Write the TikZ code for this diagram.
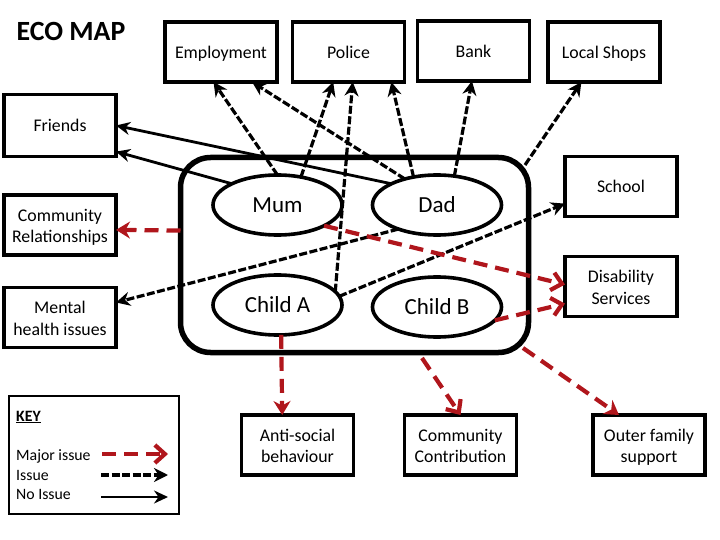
\documentclass[tikz,border=0pt]{standalone}
\usepackage{fontspec}
\setmainfont{Carlito}
\usetikzlibrary{arrows.meta,shapes.geometric}
\definecolor{major}{HTML}{B0161C}
\newcommand{\topline}{\rule{0pt}{17pt}}
\tikzset{
  box/.style={draw=black,line width=3.8pt,fill=white,inner sep=0pt,outer sep=0pt,
    minimum width=112pt,minimum height=60pt,align=center,
    execute at begin node={\rule{0pt}{16pt}},execute at end node={\rule[-3pt]{0pt}{3pt}},
    font=\fontsize{17.8}{21.5}\selectfont},
  person/.style={ellipse,draw=black,line width=3.6pt,fill=white,inner sep=0pt,outer sep=0pt,
    minimum width=129pt,minimum height=60pt,font=\fontsize{23}{26}\selectfont},
  keytext/.style={anchor=west,inner sep=0pt,font=\fontsize{15.8}{18}\selectfont},
  noissue/.style={draw=black,line width=2.8pt,-{Stealth[length=14pt,width=13pt]}},
  issue/.style={draw=black,line width=3.2pt,dash pattern=on 8pt off 2.5pt,-{Stealth[length=14pt,width=14pt]}},
  major/.style={draw=major,line width=4.2pt,dash pattern=on 14pt off 8pt,-{Stealth[length=14pt,width=17pt]}},
  majoropen/.style={draw=major,line width=4.2pt,dash pattern=on 14pt off 8pt,-{Straight Barb[length=10pt,width=18pt]}},
}
\begin{document}
\begin{tikzpicture}[x=1pt,y=-1pt]
\useasboundingbox (0,0) rectangle (720,540);

\node[inner sep=0pt,font=\bfseries\fontsize{27.8}{30}\selectfont] (title) at (71,31) {ECO MAP};

% family
\node[draw=black,line width=5.5pt,rounded corners=30pt,inner sep=0pt,outer sep=0pt,
  minimum width=348pt,minimum height=195pt] (home) at (354.5,255) {};
\node[person] (mum) at (277.5,205) {Mum};
\node[person] (dad) at (437,205) {Dad};
\node[person] (childa) at (277.5,305) {Child A};
\node[person] (childb) at (437,307) {Child B};

% outside
\node[box] (emp) at (221,52) {Employment};
\node[box] (police) at (348.5,52) {Police};
\node[box] (bank) at (473.5,51) {Bank};
\node[box] (shops) at (604,52) {Local Shops};
\node[box,minimum height=62pt] (friends) at (60,125.5) {Friends};
\node[box] (comm) at (60,225) {\topline Community\\Relationships};
\node[box] (mental) at (60,317.5) {\topline Mental\\health issues};
\node[box] (school) at (621,186.5) {School};
\node[box] (disab) at (621,286.5) {\topline Disability\\Services};
\node[box] (anti) at (297.5,445) {\topline Anti-social\\behaviour};
\node[box] (contrib) at (460.5,445) {\topline Community\\Contribution};
\node[box] (outer) at (649,445) {\topline Outer family\\support};

% exits from the family box
\coordinate (homeshops) at (525,165);
\coordinate (homecontrib) at (422,358);
\coordinate (homeouter) at (523,348);

% connectors
\draw[noissue] (dad.155) -- (friends.east);
\draw[noissue] (mum.155) -- (friends.-25.8);
\draw[issue] (mum.north) -- (emp.-104);
\draw[issue] (dad.141.5) -- (emp.-44.5);
\draw[issue] (mum.50) -- (police.-117.6);
\draw[issue] (childa.13.5) -- (police.-82);
\draw[issue] (dad.130.6) -- (police.-35.3);
\draw[issue] (dad.59.3) -- (bank.-93);
\draw[issue] (homeshops) -- (shops.-127.3);
\draw[issue] (dad.212) -- (mental.15.2);
\draw[issue] (childa.8) -- (school.197.7);
\draw[major] (home.172) -- (comm.-5);
\draw[majoropen] (mum.-24) -- (disab.178.5);
\draw[majoropen] (childb.-13) -- (disab.197.7);
\draw[major] (childa.-83.6) -- (anti.117.3);
\draw[majoropen] (homecontrib) -- (contrib.north);
\draw[major] (homeouter) -- (outer.135);

% key
\node[draw=black,line width=2pt,inner sep=0pt,outer sep=0pt,minimum width=170pt,minimum height=118pt] (key) at (93.5,454.5) {};
\node[keytext] (keyhead) at (16,417) {\textbf{\underline{KEY}}};
\node[keytext] (keymajor) at (16,456) {Major issue};
\node[keytext] (keyissue) at (16,475) {Issue};
\node[keytext] (keyno) at (16,494) {No Issue};
\coordinate (ma) at (102,454); \coordinate (mb) at (168,454);
\coordinate (ia) at (101,475); \coordinate (ib) at (168,475);
\coordinate (na) at (101,497); \coordinate (nb) at (168,497);
\draw[majoropen] (ma) -- (mb);
\draw[issue] (ia) -- (ib);
\draw[noissue] (na) -- (nb);
\end{tikzpicture}
\end{document}
